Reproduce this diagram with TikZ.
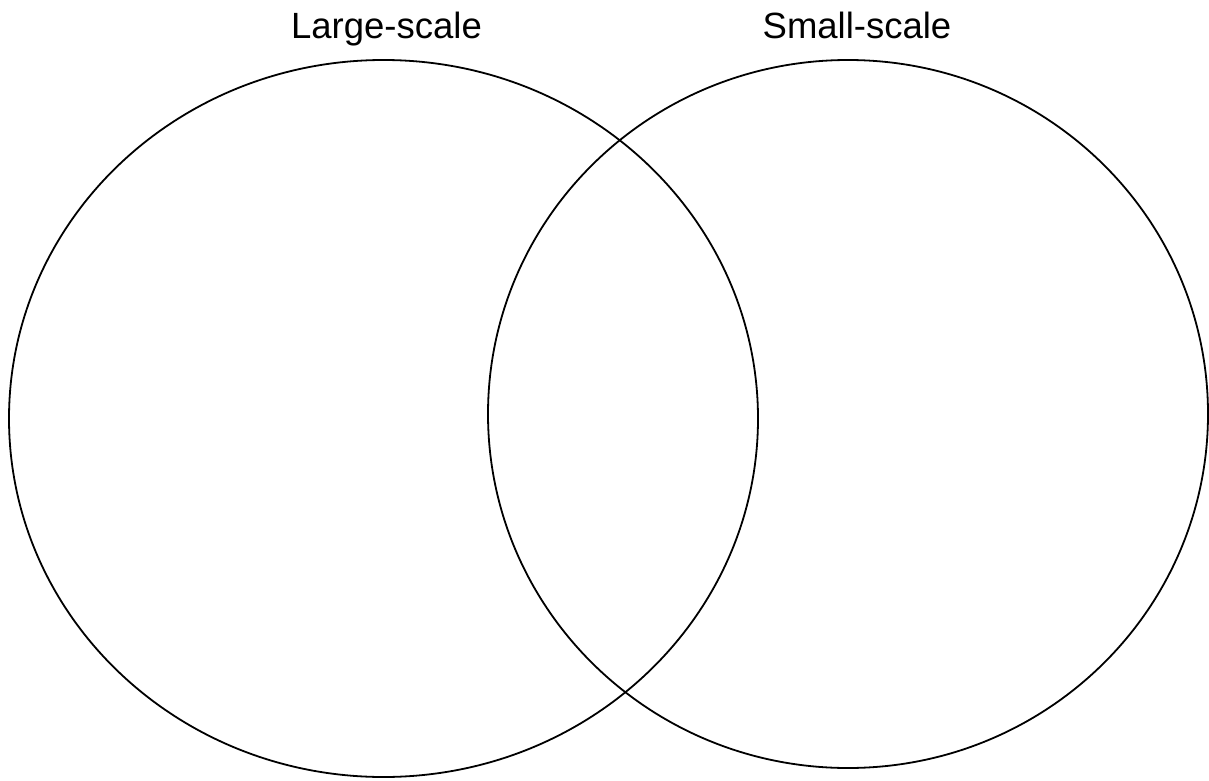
\documentclass[tikz,border=0pt]{standalone}
\usepackage{fontspec}
\setmainfont{Liberation Sans}
\usetikzlibrary{shapes.geometric, positioning}

\tikzset{
  scaleset/.style={draw, line width=1.8pt, ellipse, inner sep=0pt, outer sep=0pt},
  scalelabel/.style={font=\fontsize{36.5}{44}\selectfont, anchor=base, inner sep=0pt},
}

\begin{document}
\begin{tikzpicture}[x=1pt, y=-1pt]
  % canvas, pixel units
  \useasboundingbox (0,0) rectangle (1209,781);

  % the two sets
  \node[scaleset, minimum width=749pt, minimum height=717pt] (large) at (383.5,418.5) {};
  \node[scaleset, minimum width=720pt, minimum height=708pt] (small) at (848,414) {};

  % Labels
  \node[scalelabel] (largelabel) at (386.5,38.5) {Large-scale};
  \node[scalelabel] (smalllabel) at (857,38.5) {Small-scale};
\end{tikzpicture}
\end{document}
